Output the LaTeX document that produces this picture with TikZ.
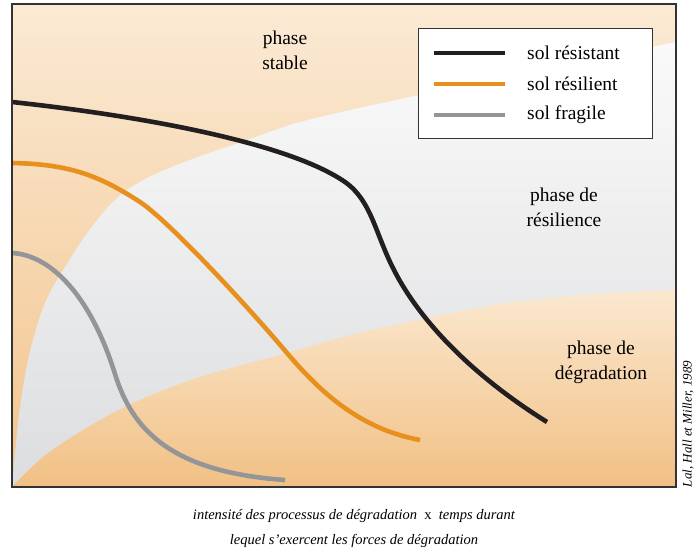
\documentclass[tikz,border=0pt]{standalone}
\usepackage{fontspec}
\setmainfont{Liberation Serif}
\usepackage{xcolor}
\usetikzlibrary{positioning}
\tikzset{>=latex}

\definecolor{peachtop}{HTML}{FBEAD5}
\definecolor{peachbot}{HTML}{F2C48C}
\definecolor{greytop}{HTML}{FAFAFA}
\definecolor{greybot}{HTML}{DCDDDF}
\definecolor{degtop}{HTML}{FBE8D0}
\definecolor{degbot}{HTML}{F1C084}
\definecolor{noirsol}{HTML}{231F20}
\definecolor{orangesol}{HTML}{E8901E}
\definecolor{grissol}{HTML}{939598}

\begin{document}
\begin{tikzpicture}[x=1pt, y=1pt]
        % t1..t3 = legend texts, sol = soil curve
        \tikzstyle{every node}=[inner sep=0pt, font=\fontsize{19.5}{25}\selectfont]
        \tikzstyle{phase}=[align=center]
        \tikzstyle{sol}=[line width=4.6pt]
        \useasboundingbox (0,0) rectangle (698,554);

        % the three phases
        \shade[top color=peachtop, bottom color=peachbot] (12,67) rectangle (676,550);
        \shade[top color=greytop, bottom color=greybot]
                plot[smooth, tension=0.55] coordinates {(12,67) (20,147) (33,214) (57,274) (127,364) (253,416) (350,444) (676,512)}
                -- (676,67) -- cycle;
        \shade[top color=degtop, bottom color=degbot]
                plot[smooth, tension=0.55] coordinates {(12,67) (43,97) (83,124) (133,151) (200,177) (287,201) (350,219) (427,236) (507,251) (607,261) (676,264)}
                -- (676,67) -- cycle;

        \node[phase] (stable) at (285,503.5) {phase\\stable};
        \node[phase] (resil) at (564,347) {phase de\\résilience};
        \node[phase] (degrad) at (601,191.5) {phase de\\dégradation};

        % soils
        \draw[sol, noirsol] (12,452) .. controls (150,437) and (290,410) .. (345,372)
                .. controls (372,353) and (375,320) .. (395,282)
                .. controls (420,234) and (470,180) .. (547,132);
        \draw[sol, orangesol] (12,391) .. controls (70,390) and (100,378) .. (140,352)
                .. controls (170,332) and (250,245) .. (287,201)
                .. controls (320,162) and (360,125) .. (420,114);
        \draw[sol, grissol] (12,301) .. controls (50,299) and (90,260) .. (115,180)
                .. controls (132,125) and (170,82) .. (285,74);

        \draw[line width=1.2pt, black!80] (12,67) rectangle (676,550);

        % legend
        \node[draw=black!80, line width=1pt, fill=white, minimum width=234pt, minimum height=110pt] (legende) at (535,470) {};
        \node[anchor=west] (t1) at (527,501) {sol résistant};
        \node[below=31pt of t1.west, anchor=west] (t2) {sol résilient};
        \node[below=31pt of t2.west, anchor=west] (t3) {sol fragile};
        \draw[sol, noirsol] ([xshift=-93pt]t1.west) -- ([xshift=-22pt]t1.west);
        \draw[sol, orangesol] ([xshift=-93pt]t2.west) -- ([xshift=-22pt]t2.west);
        \draw[sol, grissol] ([xshift=-93pt]t3.west) -- ([xshift=-22pt]t3.west);

        \node[rotate=90, font=\itshape\fontsize{13}{15}\selectfont] (source) at (688,130) {Lal, Hall et Miller, 1989};
        \node[phase, font=\itshape\fontsize{14.5}{25}\selectfont] (axe) at (354,25.5)
                {intensité des processus de dégradation \ {\upshape x} \ temps durant\\lequel s’exercent les forces de dégradation};
\end{tikzpicture}
\end{document}
